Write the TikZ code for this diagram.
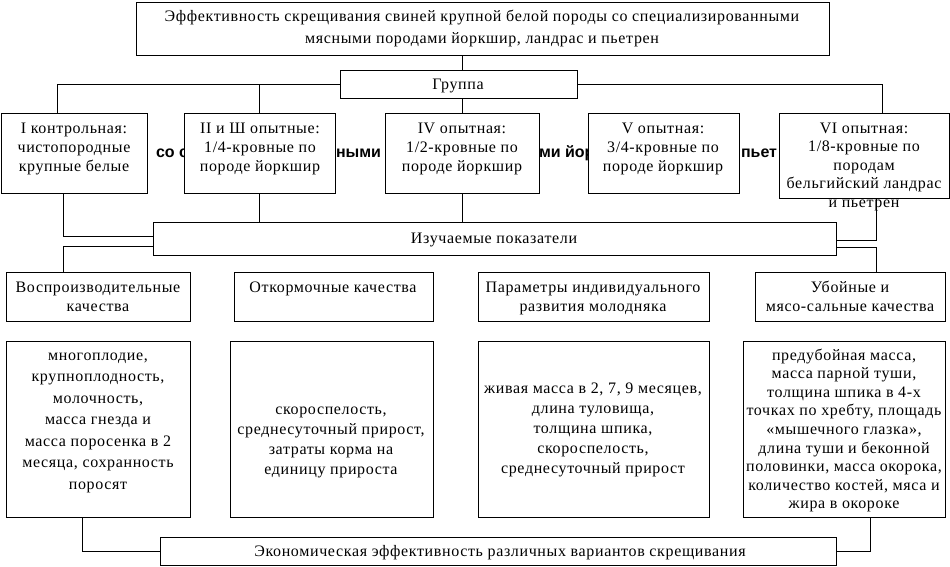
\documentclass[tikz,border=0pt]{standalone}
\usepackage{fontspec}
\setmainfont{Liberation Serif}[LetterSpace=4]
\newfontfamily\strayfont{Liberation Sans}
\usetikzlibrary{calc}
\newcommand\fl{\rule{0pt}{13pt}}
\tikzset{
  box/.style={draw, line width=1pt, fill=white, inner sep=0pt, outer sep=0pt, anchor=north west},
  txt/.style={inner sep=0pt, outer sep=0pt, anchor=north, align=center,
    font=\fontsize{16}{#1}\selectfont},
  txt/.default=18.6,
  stray/.style={inner sep=0pt, outer sep=0pt, anchor=base west, font=\strayfont\bfseries\fontsize{16}{19}\selectfont},
  link/.style={line width=1pt}
}
\begin{document}
\begin{tikzpicture}[x=1pt,y=-1pt]
\useasboundingbox[fill=white] (0,0) rectangle (950,566);
% stray fragments of underlying text (partly covered by boxes)
\node[stray] (s1) at (156,157) {со с};
\node[stray] (s2) at (336,157) {ными};
\node[stray] (s3) at (539,157) {ми йор};
\node[stray] (s4) at (741,157) {пьет};
% boxes
\node[box, minimum width=693pt, minimum height=53pt] (title) at (136,2) {};
\node[box, minimum width=237pt, minimum height=28pt] (grp) at (340,70) {};
\node[box, minimum width=146pt, minimum height=80pt] (g1) at (1,113) {};
\node[box, minimum width=151pt, minimum height=80pt] (g2) at (184,113) {};
\node[box, minimum width=154pt, minimum height=80pt] (g4) at (385,113) {};
\node[box, minimum width=151pt, minimum height=80pt] (g5) at (588,113) {};
\node[box, minimum width=170pt, minimum height=85pt] (g6) at (779,113) {};
\node[box, minimum width=683pt, minimum height=33pt] (izu) at (153,222) {};
\node[box, minimum width=184pt, minimum height=49pt] (k1) at (6,272) {};
\node[box, minimum width=199pt, minimum height=49pt] (k2) at (234,272) {};
\node[box, minimum width=231pt, minimum height=49pt] (k3) at (478,272) {};
\node[box, minimum width=190pt, minimum height=49pt] (k4) at (755,272) {};
\node[box, minimum width=184pt, minimum height=176pt] (d1) at (6,341) {};
\node[box, minimum width=203pt, minimum height=176pt] (d2) at (230,341) {};
\node[box, minimum width=231pt, minimum height=176pt] (d3) at (478,341) {};
\node[box, minimum width=202pt, minimum height=176pt] (d4) at (743,341) {};
\node[box, minimum width=676pt, minimum height=28pt] (eco) at (160,537) {};
% texts
\node[txt=22] (ttitle) at (482,8.5) {\fl Эффективность скрещивания свиней крупной белой породы со специализированными\\мясными породами йоркшир, ландрас и пьетрен};
\node[txt] (tgrp) at (458,76) {\fl Группа};
\node[txt=19] (tg1) at (74,120) {\fl I контрольная:\\чистопородные\\крупные белые};
\node[txt=19] (tg2) at (260,120) {\fl II и Ш опытные:\\1/4-кровные по\\породе йоркшир};
\node[txt=19] (tg4) at (462,120) {\fl IV опытная:\\1/2-кровные по\\породе йоркшир};
\node[txt=19] (tg5) at (663,120) {\fl V опытная:\\3/4-кровные по\\породе йоркшир};
\node[txt] (tg6) at (864,120) {\fl VI опытная:\\1/8-кровные по\\породам\\бельгийский ландрас\\и пьетрен};
\node[txt] (tizu) at (494,230) {\fl Изучаемые показатели};
\node[txt=19] (tk1) at (98,279.5) {\fl Воспроизводительные\\качества};
\node[txt=19] (tk2) at (333,279.5) {\fl Откормочные качества};
\node[txt=19] (tk3) at (593,279.5) {\fl Параметры индивидуального\\развития молодняка};
\node[txt=19] (tk4) at (850,279.5) {\fl Убойные и\\мясо-сальные качества};
\node[txt=21.5] (td1) at (98,347) {\fl многоплодие,\\крупноплодность,\\молочность,\\масса гнезда и\\масса поросенка в 2\\месяца, сохранность\\поросят};
\node[txt=20] (td2) at (331,401) {\fl скороспелость,\\среднесуточный прирост,\\затраты корма на\\единицу прироста};
\node[txt=20] (td3) at (593,380) {\fl живая масса в 2, 7, 9 месяцев,\\длина туловища,\\толщина шпика,\\скороспелость,\\среднесуточный прирост};
\node[txt] (td4) at (844,347) {\fl предубойная масса,\\масса парной туши,\\толщина шпика в 4-х\\точках по хребту, площадь\\«мышечного глазка»,\\длина туши и беконной\\половинки, масса окорока,\\количество костей, мяса и\\жира в окороке};
\node[txt] (teco) at (500,543) {\fl Экономическая эффективность различных вариантов скрещивания};
% connectors
\draw[link] (g4.north |- title.south) -- (g4.north |- grp.north);
\draw[link] (g4.north |- grp.south) -- (g4.north);
\draw[link] (grp.west) -| ($(g1.north west)+(56,0)$);
\draw[link] (g2.north |- grp.west) -- (g2.north);
\draw[link] (grp.east) -| ($(g6.north west)+(103,0)$);
\draw[link] ($(g5.north)+(3.5,0)$ |- grp.east) -- ($(g5.north)+(3.5,0)$);
\draw[link] ($(g1.south west)+(62,0)$) |- ($(izu.west)+(0,-2.5)$);
\draw[link] ($(izu.west)+(0,7.5)$) -| ($(k1.north west)+(57,0)$);
\draw[link] (g2.south) -- (g2.south |- izu.north);
\draw[link] (g4.south) -- (g4.south |- izu.north);
\draw[link] ($(g5.south)+(3.5,0)$) -- ($(g5.south)+(3.5,0)$ |- izu.north);
\draw[link] ($(g6.south west)+(97,0)$) |- ($(izu.east)+(0,1.5)$);
\draw[link] ($(izu.east)+(0,8.5)$) -| ($(k4.north west)+(121,0)$);
\draw[link] ($(k2.north west)+(88,0)$) -- ($(k2.north west)+(88,0)$ |- izu.south);
\draw[link] ($(k3.north west)+(105,0)$) -- ($(k3.north west)+(105,0)$ |- izu.south);
\draw[link] ($(k1.south west)+(57,0)$) -- ($(k1.south west)+(57,0)$ |- d1.north);
\draw[link] ($(k2.south west)+(88,0)$) -- ($(k2.south west)+(88,0)$ |- d2.north);
\draw[link] ($(k3.south west)+(110,0)$) -- ($(k3.south west)+(110,0)$ |- d3.north);
\draw[link] ($(k4.south west)+(88,0)$) -- ($(k4.south west)+(88,0)$ |- d4.north);
\draw[link] ($(d1.south west)+(76,0)$) |- (eco.west);
\draw[link] ($(d2.south west)+(92,0)$) -- ($(d2.south west)+(92,0)$ |- eco.north);
\draw[link] ($(d3.south west)+(105,0)$) -- ($(d3.south west)+(105,0)$ |- eco.north);
\draw[link] ($(d4.south west)+(127,0)$) |- (eco.east);
\end{tikzpicture}
\end{document}
